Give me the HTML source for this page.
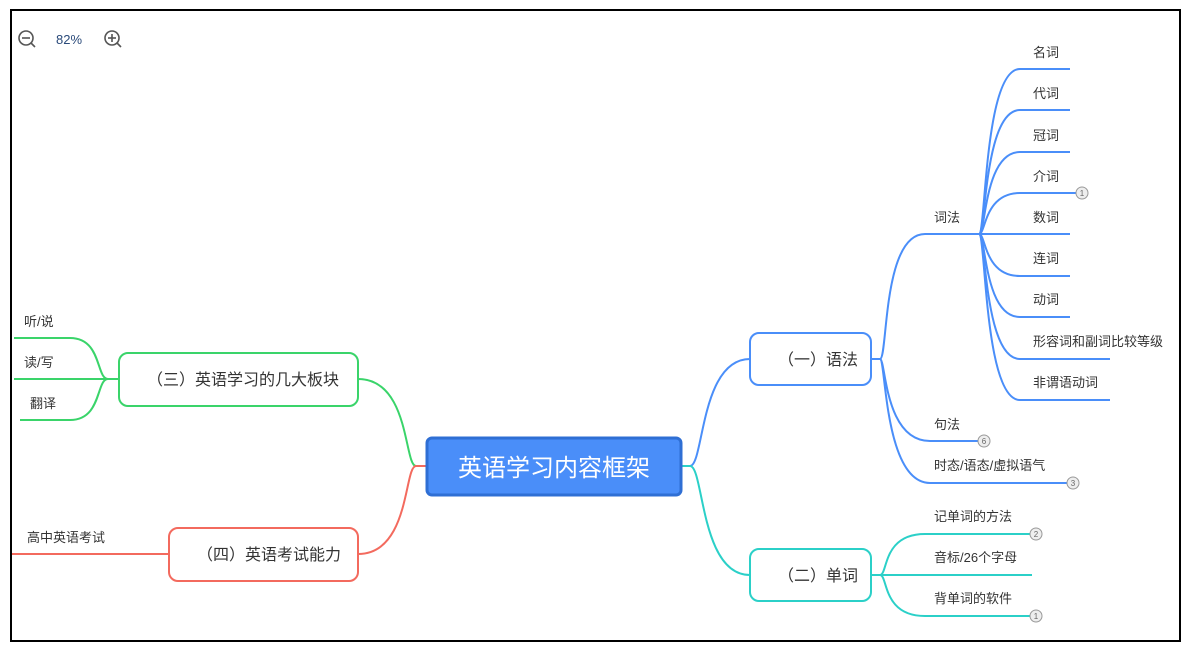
<!DOCTYPE html>
<html><head><meta charset="utf-8"><style>
html,body{margin:0;padding:0;background:#fff;}
svg{display:block;}
text{font-family:"Liberation Sans","Noto Sans CJK SC",sans-serif;}
</style></head><body>
<svg width="1185" height="645" viewBox="0 0 1185 645" xmlns="http://www.w3.org/2000/svg">
<rect x="11" y="10" width="1169" height="631" fill="#fff" stroke="#000" stroke-width="2"/>
<g stroke="#555" stroke-width="1.6" fill="none">
<circle cx="26" cy="38" r="7"/><line x1="22" y1="38" x2="30" y2="38"/><line x1="31" y1="43" x2="35" y2="47"/>
<circle cx="112" cy="38" r="7"/><line x1="108" y1="38" x2="116" y2="38"/><line x1="112" y1="34" x2="112" y2="42"/><line x1="117" y1="43" x2="121" y2="47"/>
</g>
<text x="56" y="44" font-size="13" fill="#2a4a7a">82%</text>

<g fill="none" stroke-width="2">
<path d="M682,466 L690,466 C704,466 700,359 750,359" stroke="#4a8ef9"/>
<path d="M682,466 L690,466 C704,466 700,575 750,575" stroke="#2bd0c8"/>
<path d="M426,466 L416,466 C404,466 410,379 358,379" stroke="#3ad46a"/>
<path d="M426,466 L416,466 C404,466 410,554 358,554" stroke="#f36a5e"/>
<g stroke="#4a8ef9">
<path d="M871,359 L880,359 C888,359 882,234 925,234 L979,234"/>
<path d="M871,359 L880,359 C886,359 884,441 930,441 L978,441"/>
<path d="M871,359 L880,359 C886,359 884,483 930,483 L1067,483"/>
<path d="M979,234 C986,234 984,69 1020,69 L1070,69"/>
<path d="M979,234 C986,234 984,110 1020,110 L1070,110"/>
<path d="M979,234 C986,234 984,152 1020,152 L1070,152"/>
<path d="M979,234 C986,234 984,193 1020,193 L1076,193"/>
<path d="M979,234 L1070,234"/>
<path d="M979,234 C986,234 984,276 1020,276 L1070,276"/>
<path d="M979,234 C986,234 984,317 1020,317 L1070,317"/>
<path d="M979,234 C986,234 984,359 1020,359 L1110,359"/>
<path d="M979,234 C986,234 984,400 1020,400 L1110,400"/>
</g>
<g stroke="#2bd0c8">
<path d="M871,575 L880,575 C888,575 882,534 925,534 L1031,534"/>
<path d="M871,575 L1032,575"/>
<path d="M871,575 L880,575 C888,575 882,616 925,616 L1031,616"/>
</g>
<g stroke="#3ad46a">
<path d="M119,379 L108,379 C96,379 102,338 70,338 L14,338"/>
<path d="M119,379 L14,379"/>
<path d="M119,379 L108,379 C96,379 102,420 70,420 L20,420"/>
</g>
<path d="M169,554 L12,554" stroke="#f36a5e"/>
</g>

<rect x="427" y="438" width="254" height="57" rx="5" fill="#4a8ef9" stroke="#2f6fd4" stroke-width="3"/>
<text x="554" y="476" font-size="24" fill="#fff" text-anchor="middle">英语学习内容框架</text>
<rect x="750" y="333" width="121" height="52" rx="9" fill="#fff" stroke="#4a8ef9" stroke-width="2"/>
<text x="778" y="365" font-size="16" fill="#333">（一）语法</text>
<rect x="750" y="549" width="121" height="52" rx="9" fill="#fff" stroke="#2bd0c8" stroke-width="2"/>
<text x="778" y="581" font-size="16" fill="#333">（二）单词</text>
<rect x="119" y="353" width="239" height="53" rx="9" fill="#fff" stroke="#3ad46a" stroke-width="2"/>
<text x="147" y="385" font-size="16" fill="#333">（三）英语学习的几大板块</text>
<rect x="169" y="528" width="189" height="53" rx="9" fill="#fff" stroke="#f36a5e" stroke-width="2"/>
<text x="197" y="560" font-size="16" fill="#333">（四）英语考试能力</text>

<g font-size="13" fill="#333">
<text x="1033" y="57">名词</text>
<text x="1033" y="98">代词</text>
<text x="1033" y="140">冠词</text>
<text x="1033" y="181">介词</text>
<text x="1033" y="222">数词</text>
<text x="1033" y="263">连词</text>
<text x="1033" y="304">动词</text>
<text x="1033" y="346">形容词和副词比较等级</text>
<text x="1033" y="387">非谓语动词</text>
<text x="934" y="222">词法</text>
<text x="934" y="429">句法</text>
<text x="934" y="470">时态/语态/虚拟语气</text>
<text x="934" y="521">记单词的方法</text>
<text x="934" y="562">音标/26个字母</text>
<text x="934" y="603">背单词的软件</text>
<text x="24" y="326">听/说</text>
<text x="24" y="367">读/写</text>
<text x="30" y="408">翻译</text>
<text x="27" y="542">高中英语考试</text>
</g>

<g fill="#eee" stroke="#999" stroke-width="1">
<circle cx="1082" cy="193" r="6"/>
<circle cx="984" cy="441" r="6"/>
<circle cx="1073" cy="483" r="6"/>
<circle cx="1036" cy="534" r="6"/>
<circle cx="1036" cy="616" r="6"/>
</g>
<g font-size="8" fill="#666" text-anchor="middle">
<text x="1082" y="196">1</text>
<text x="984" y="444">6</text>
<text x="1073" y="486">3</text>
<text x="1036" y="537">2</text>
<text x="1036" y="619">1</text>
</g>
</svg>
</body></html>
